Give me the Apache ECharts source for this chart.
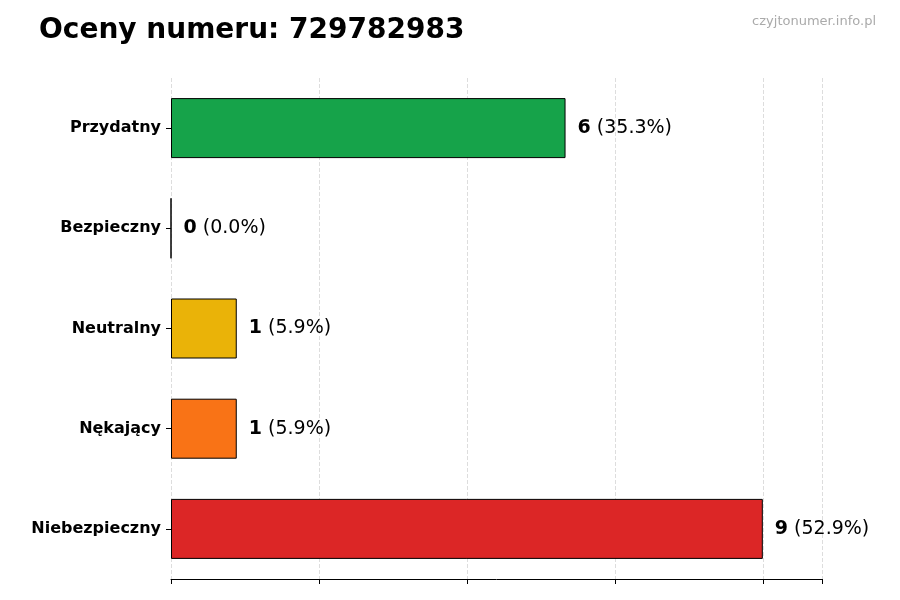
<!DOCTYPE html>
<html>
<head>
  <meta charset="utf-8">
  <script src="https://cdn.jsdelivr.net/npm/echarts@6/dist/echarts.min.js"></script>
  <title>Oceny numeru</title>
</head>
<body style="margin:0;background:#fff">
  <div id="chart" style="width:900px;height:600px"></div>
  <script>
    const categories = ["Przydatny", "Bezpieczny", "Neutralny", "Nękający", "Niebezpieczny"];
    const counts = [6, 0, 1, 1, 9];
    const percents = ["35.3%", "0.0%", "5.9%", "5.9%", "52.9%"];
    const colors = ["#16a34a", "#9ca3af", "#eab308", "#f97316", "#dc2626"];

    const chart = echarts.init(document.getElementById("chart"));

    const option = {
      animation: false,
      title: [
        {
          text: "Oceny numeru: 729782983",
          left: 34,
          top: 12,
          textStyle: { fontFamily: "DejaVu Sans", fontSize: 28, fontWeight: "bold", color: "#000" },
        },
        {
          text: "czyjtonumer.info.pl",
          right: 19,
          top: 10,
          textStyle: { fontFamily: "DejaVu Sans", fontSize: 13, fontWeight: "normal", color: "#aaa" },
        },
      ],
      grid: { left: 171, right: 78, top: 78, bottom: 21 },
      xAxis: {
        type: "value",
        min: 0,
        max: 9.9,
        interval: 2.25,
        axisLabel: { show: false },
        axisLine: { show: true, lineStyle: { color: "#000" } },
        axisTick: { show: true, length: 5, lineStyle: { color: "#000" } },
        splitLine: { show: true, lineStyle: { type: "dashed", color: "#ddd" } },
      },
      yAxis: {
        type: "category",
        inverse: true,
        data: categories,
        axisLine: { show: false },
        axisTick: { show: true, alignWithLabel: true, length: 5, lineStyle: { color: "#000" } },
        axisLabel: { fontFamily: "DejaVu Sans", fontSize: 16, fontWeight: "bold", color: "#000", margin: 10 },
      },
      series: [
        {
          type: "bar",
          barWidth: 60,
          data: counts.map((v, i) => ({
            value: v,
            itemStyle: { color: colors[i], borderColor: "#000", borderWidth: 1 },
          })),
          label: {
            show: true,
            position: "right",
            distance: 12,
            formatter: (p) => "{b|" + counts[p.dataIndex] + "} (" + percents[p.dataIndex] + ")",
            fontFamily: "DejaVu Sans",
            fontSize: 19,
            color: "#000",
            rich: { b: { fontFamily: "DejaVu Sans", fontSize: 19, fontWeight: "bold", color: "#000" } },
          },
        },
      ],
    };

    chart.setOption(option);
  </script>
</body>
</html>
